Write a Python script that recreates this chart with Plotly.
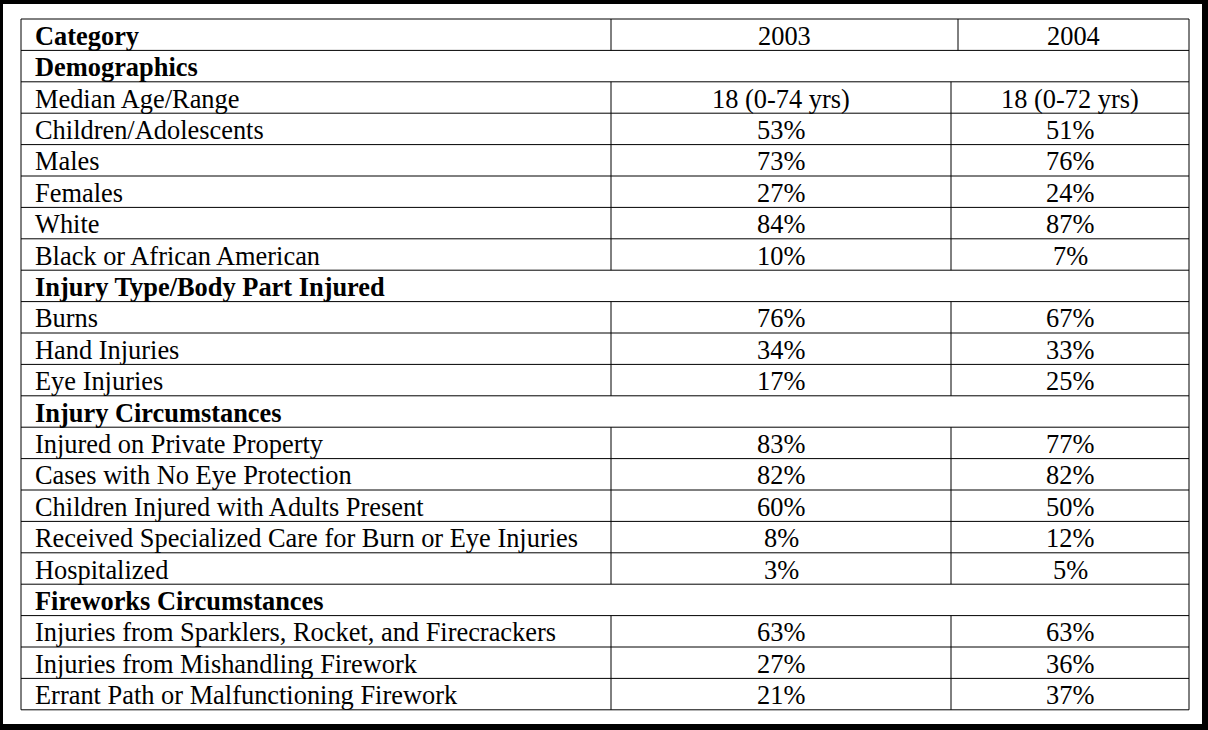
import plotly.graph_objects as go

# table content
header = ["Category", "2003", "2004"]

sections = ["Demographics", "Injury Type/Body Part Injured",
            "Injury Circumstances", "Fireworks Circumstances"]

demo_labels = ["Median Age/Range", "Children/Adolescents", "Males", "Females",
               "White", "Black or African American"]
demo_2003 = ["18 (0-74 yrs)", "53%", "73%", "27%", "84%", "10%"]
demo_2004 = ["18 (0-72 yrs)", "51%", "76%", "24%", "87%", "7%"]

injury_labels = ["Burns", "Hand Injuries", "Eye Injuries"]
injury_2003 = ["76%", "34%", "17%"]
injury_2004 = ["67%", "33%", "25%"]

circ_labels = ["Injured on Private Property", "Cases with No Eye Protection",
               "Children Injured with Adults Present",
               "Received Specialized Care for Burn or Eye Injuries", "Hospitalized"]
circ_2003 = ["83%", "82%", "60%", "8%", "3%"]
circ_2004 = ["77%", "82%", "50%", "12%", "5%"]

fw_labels = ["Injuries from Sparklers, Rocket, and Firecrackers",
             "Injuries from Mishandling Firework",
             "Errant Path or Malfunctioning Firework"]
fw_2003 = ["63%", "27%", "21%"]
fw_2004 = ["63%", "36%", "37%"]

groups = [(demo_labels, demo_2003, demo_2004),
          (injury_labels, injury_2003, injury_2004),
          (circ_labels, circ_2003, circ_2004),
          (fw_labels, fw_2003, fw_2004)]

# build row list: (kind, label, v2003, v2004)
rows = [("head", header[0], header[1], header[2])]
for sec, (labs, a, b) in zip(sections, groups):
    rows.append(("sec", sec, "", ""))
    for l, x, y in zip(labs, a, b):
        rows.append(("data", l, x, y))

# geometry (in pixel-like axis units)
top = 19
step = 31.4
left, right = 21, 1189
col1 = 611
col2_head, col2_data = 958, 951
text_x = 33

font = dict(family="Liberation Serif, Times New Roman, serif", size=26.4, color="black")
line = dict(color="black", width=1)

shapes = []
annotations = []
n = len(rows)
for i, (kind, lab, a, b) in enumerate(rows):
    y0 = top + i * step
    y1 = y0 + step
    yc = (y0 + y1) / 2 + 1
    shapes.append(dict(type="line", x0=left, x1=right, y0=y0, y1=y0,
                       xref="x", yref="y", line=line))
    if kind in ("sec", "head"):
        txt = "<b>" + lab + "</b>"
    else:
        txt = lab
    annotations.append(dict(x=text_x, y=yc, text=txt, xref="x", yref="y",
                            xanchor="left", yanchor="middle", showarrow=False, font=font))
    if kind != "sec":
        c2 = col2_head if kind == "head" else col2_data
        for xc in (col1, c2):
            shapes.append(dict(type="line", x0=xc, x1=xc, y0=y0, y1=y1,
                               xref="x", yref="y", line=line))
        annotations.append(dict(x=(col1 + c2) / 2, y=yc, text=a, xref="x", yref="y",
                                xanchor="center", yanchor="middle", showarrow=False, font=font))
        annotations.append(dict(x=(c2 + right) / 2, y=yc, text=b, xref="x", yref="y",
                                xanchor="center", yanchor="middle", showarrow=False, font=font))

bottom = top + n * step
shapes.append(dict(type="line", x0=left, x1=right, y0=bottom, y1=bottom,
                   xref="x", yref="y", line=line))
for xe in (left, right):
    shapes.append(dict(type="line", x0=xe, x1=xe, y0=top, y1=bottom,
                       xref="x", yref="y", line=line))

fig = go.Figure()
fig.add_trace(go.Scatter(x=[left, right], y=[top, bottom], mode="markers",
                         marker=dict(opacity=0), hoverinfo="skip", showlegend=False))
fig.update_layout(
    width=1208, height=730,
    margin=dict(l=3, r=6, t=4, b=6),
    paper_bgcolor="black", plot_bgcolor="white",
    shapes=shapes, annotations=annotations,
    xaxis=dict(range=[3, 1202], visible=False, fixedrange=True),
    yaxis=dict(range=[724, 4], visible=False, fixedrange=True),
    showlegend=False,
)
fig.write_html("out.html", config={"displayModeBar": False},
               post_script="document.body.style.margin='0';document.body.style.overflow='hidden';")
